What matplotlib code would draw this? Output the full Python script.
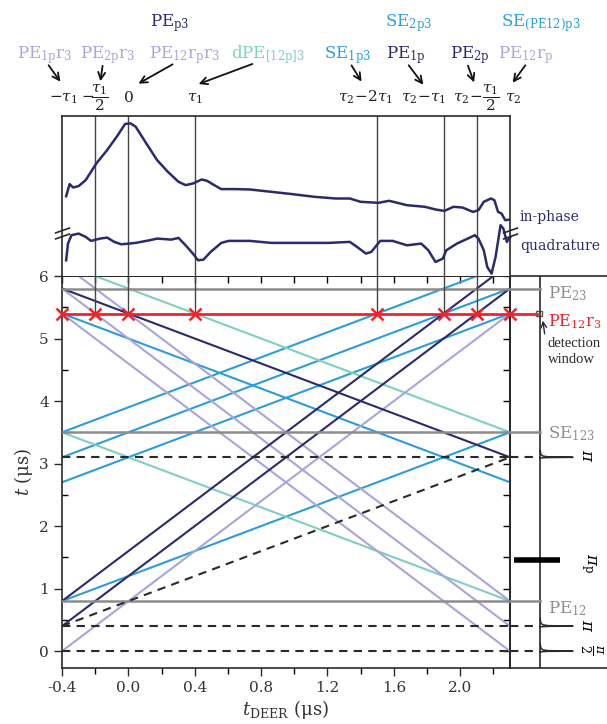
import numpy as np
import matplotlib
matplotlib.use("Agg")
import matplotlib.pyplot as plt
from matplotlib.transforms import blended_transform_factory
from matplotlib.patches import Rectangle, FancyArrowPatch

plt.rcParams['font.family'] = ['DejaVu Serif']
plt.rcParams['mathtext.fontset'] = 'dejavuserif'
plt.rcParams['axes.unicode_minus'] = False

# ---------------- data ----------------
tdeer_range = [-0.4, 2.3]           # t_DEER sweep (us)
pulse_times = [0.0, 0.4, 3.1]       # pi/2, pi, pi
pump_times = [0.4, 3.1]             # pump position at start / end of sweep
echo_time = 5.4
primary_echo_names = ["PE$_{12}$", "SE$_{123}$", "PE$_{23}$"]
primary_echo_times = [0.8, 3.5, 5.8]

# echo pathways: t at t_DEER=-0.4 and t at t_DEER=2.3
navy_paths = [(5.8, 3.1), (0.8, 6.2), (0.4, 5.8)]
lavender_paths = [(0.0, 5.4), (5.4, 0.0), (5.8, 0.4), (6.2, 0.8)]
teal_paths = [(6.2, 3.5), (3.5, 0.8)]
blue_paths = [(3.5, 6.2), (3.1, 5.8), (2.7, 5.4), (0.8, 3.5), (5.4, 2.7)]

crossing_x = [-0.4, -0.2, 0.0, 0.4, 1.5, 1.9, 2.1, 2.3]
tick_texts = [r'$-\tau_1$', r'$-\!\dfrac{\tau_1}{2}$', r'$0$', r'$\tau_1$',
              r'$\tau_2\!-\!2\tau_1$', r'$\tau_2\!-\!\tau_1$',
              r'$\tau_2\!-\!\dfrac{\tau_1}{2}$', r'$\tau_2$']

inphase_x = [-0.375, -0.354, -0.333, -0.300, -0.257, -0.193, -0.128, -0.063, -0.020, 0.012,
             0.044, 0.108, 0.173, 0.238, 0.302, 0.345, 0.389, 0.442, 0.474, 0.517,
             0.560, 0.646, 0.733, 0.861, 0.991, 1.120, 1.249, 1.335, 1.399, 1.507,
             1.572, 1.679, 1.787, 1.851, 1.905, 1.959, 2.013, 2.077, 2.110, 2.142,
             2.185, 2.206, 2.228, 2.249, 2.271, 2.300]
inphase_y = [79.8, 91.9, 88.5, 89.9, 95.9, 112.6, 125.9, 141, 152, 152.7,
             149.3, 132.6, 115.9, 104.2, 94.2, 90.9, 92.5, 96.5, 95.2, 90.9,
             86.9, 86.9, 86.5, 84.2, 81.8, 79.2, 77.5, 77.5, 74.2, 73.2,
             75.2, 70.8, 69.2, 66.5, 65.1, 69.2, 68.5, 64.1, 65.8, 74.2,
             77.5, 75.8, 64.1, 62.5, 55.8, 56.5]
quad_x = [-0.375, -0.364, -0.343, -0.300, -0.257, -0.225, -0.171, -0.128, -0.085, -0.042,
          0.044, 0.130, 0.173, 0.259, 0.302, 0.345, 0.389, 0.420, 0.453, 0.496,
          0.560, 0.604, 0.733, 0.861, 1.034, 1.206, 1.335, 1.378, 1.432, 1.464,
          1.518, 1.593, 1.679, 1.765, 1.808, 1.851, 1.895, 1.916, 1.980, 2.045,
          2.088, 2.110, 2.142, 2.163, 2.189, 2.213, 2.243, 2.260, 2.281, 2.303]
quad_y = [15.7, 32.4, 40.8, 42.4, 39.1, 35.1, 37.4, 38.4, 34.1, 31.7,
          33.1, 35.8, 37.4, 36.4, 38.1, 30.7, 22.4, 15.7, 16.4, 24.1,
          33.1, 35.1, 35.1, 33.1, 33.1, 33.1, 34.1, 29.1, 22.4, 24.1,
          35.1, 35.1, 30.7, 32.4, 25.7, 14.0, 17.4, 25.7, 32.4, 37.4,
          40.8, 37.4, 25.7, 9.0, 2.4, 19.0, 50.8, 47.4, 34.1, 39.1]

# ---------------- style ----------------
NAVY = '#2a2a6c'
LAV = '#a8a5da'
TEAL = '#7fcfc1'
BLUE = '#2c9ddb'
GREY = '#8c8c8c'
RED = '#f0232d'
DARK = '#2a2a2a'

W, H = 607, 724
fig = plt.figure(figsize=(W / 100, H / 100), dpi=100)
def fx(px): return px / W
def fy(py): return 1 - py / H

L, R = 62, 510
main_top, main_bot = 276, 668
top_top = 116

ax = fig.add_axes([fx(L), fy(main_bot), fx(R) - fx(L), fy(main_top) - fy(main_bot)])
axp = fig.add_axes([fx(R), fy(main_bot), 1 - fx(R), fy(main_top) - fy(main_bot)])
axt = fig.add_axes([fx(L), fy(main_top), fx(R) - fx(L), fy(top_top) - fy(main_top)])

# ---------------- main axes ----------------
ax.set_xlim(tdeer_range)
ax.set_ylim(-0.27, 6.0)
for s in ax.spines.values():
    s.set_linewidth(1.2)
    s.set_color(DARK)

lw = 1.5
for a, b in blue_paths:
    ax.plot(tdeer_range, [a, b], color=BLUE, lw=lw, zorder=2)
for a, b in teal_paths:
    ax.plot(tdeer_range, [a, b], color=TEAL, lw=lw, zorder=2)
for a, b in lavender_paths:
    ax.plot(tdeer_range, [a, b], color=LAV, lw=lw, zorder=2)
for a, b in navy_paths:
    ax.plot(tdeer_range, [a, b], color=NAVY, lw=lw, zorder=2)

for t in primary_echo_times:
    ax.axhline(t, color=GREY, lw=1.8, zorder=3)
dash = (0, (4, 3))
for t in pulse_times:
    ax.axhline(t, color=DARK, lw=1.5, ls=dash, zorder=3)
ax.plot(tdeer_range, pump_times, color=DARK, lw=1.5, ls=dash, zorder=3)

ax.axhline(echo_time, color=RED, lw=2.0, zorder=4)
ax.vlines(crossing_x[1:-1], echo_time, 6.0, color='#444444', lw=1.0, zorder=3)
ax.plot(crossing_x, [echo_time] * len(crossing_x), 'x', ms=9, mew=1.8,
        color=RED, clip_on=False, zorder=6)

ax.set_xticks(np.arange(-0.4, 2.01, 0.4))
ax.set_xticklabels([f'{v:.1f}' for v in np.arange(-0.4, 2.01, 0.4)])
ax.set_xticks(np.arange(-0.2, 2.21, 0.4), minor=True)
ax.set_yticks(range(0, 7))
ax.set_yticks(np.arange(0.5, 6, 1.0), minor=True)
ax.tick_params(axis='x', which='major', direction='out', length=6, width=1, labelsize=11, colors=DARK)
ax.tick_params(axis='x', which='minor', direction='out', length=4, width=1)
ax.tick_params(axis='y', which='major', direction='out', length=6, width=1, labelsize=11, colors=DARK)
ax.tick_params(axis='y', which='minor', direction='in', length=4, width=1)
ax.tick_params(labelcolor='#333333')

sx = ax.secondary_xaxis('top')
sx.set_xticks(np.arange(-0.4, 2.31, 0.2))
sx.tick_params(direction='in', length=5, width=1, labeltop=False)
sx.spines['top'].set_linewidth(1.2)
sy = ax.secondary_yaxis('right')
sy.set_yticks(np.arange(0, 6.01, 0.5))
sy.tick_params(direction='in', length=5, width=1, labelright=False)
sy.spines['right'].set_linewidth(1.2)

ax.set_xlabel(r'$t_{\mathrm{DEER}}$ (μs)', fontsize=13, color='#333333', labelpad=2)
ax.set_ylabel(r'$t$ (μs)', fontsize=13, color='#333333', labelpad=3)

# ---------------- pulse panel ----------------
AX0 = 30
axp.set_xlim(0, 97)
axp.set_ylim(-0.27, 6.0)
axp.set_xticks([])
axp.set_yticks([])
axp.patch.set_alpha(0)
for side in ['left', 'right']:
    axp.spines[side].set_visible(False)
for side in ['top', 'bottom']:
    axp.spines[side].set_linewidth(1.2)
    axp.spines[side].set_color(DARK)

axp.axvline(AX0, color=DARK, lw=1.2)
for t in primary_echo_times:
    axp.plot([0, AX0], [t, t], color=GREY, lw=1.8)
for t in pulse_times:
    axp.plot([0, AX0], [t, t], color=DARK, lw=1.5, ls=dash)
axp.plot([0, AX0 - 3], [echo_time, echo_time], color=RED, lw=2.0)

spike_dx = [0, 1.0, 3.0, 8.0, 33.0, 8.0, 1.0, 0]
spike_dy = [0.12, 0.045, 0.02, 0.008, 0.0, -0.004, -0.01, -0.02]
for t in pulse_times:
    axp.plot([AX0 + d for d in spike_dx], [t + d for d in spike_dy], color=DARK, lw=1.1)
axp.plot([4, 50], [1.45, 1.45], color='black', lw=4, solid_capstyle='butt')

axp.add_patch(Rectangle((AX0 - 4, echo_time - 0.045), 6, 0.09, fill=False,
                        edgecolor='#555555', lw=1.0))
axp.annotate('', xy=(AX0 + 2.5, echo_time - 0.07), xytext=(AX0 + 5, 5.03),
             arrowprops=dict(arrowstyle='->', lw=1.0, color=DARK))

axp.text(38, 5.65, primary_echo_names[2], color=GREY, fontsize=12)
axp.text(38, 5.2, r'PE$_{12}$r$_3$', color=RED, fontsize=11.5)
axp.text(38, 4.86, 'detection', color=DARK, fontsize=10.5, family='Liberation Serif')
axp.text(38, 4.61, 'window', color=DARK, fontsize=10.5, family='Liberation Serif')
axp.text(38, 3.41, primary_echo_names[1], color=GREY, fontsize=12)
axp.text(38, 0.61, primary_echo_names[0], color=GREY, fontsize=12)

axp.text(77, 3.13, r'$\pi$', rotation=-90, fontsize=12, ha='center', va='center')
axp.text(78, 1.41, r'$\pi_\mathrm{p}$', rotation=-90, fontsize=12, ha='center', va='center')
axp.text(77, 0.40, r'$\pi$', rotation=-90, fontsize=12, ha='center', va='center')
axp.text(81, 0.03, r'$\frac{\pi}{2}$', rotation=-90, fontsize=13, ha='center', va='center')

# ---------------- top panel (traces) ----------------
axt.set_xlim(tdeer_range)
axt.set_ylim(0, 160)
axt.set_xticks([])
axt.set_yticks([])
axt.spines['bottom'].set_visible(False)
for side in ['top', 'left', 'right']:
    axt.spines[side].set_linewidth(1.2)
    axt.spines[side].set_color(DARK)
for xv in crossing_x[1:-1]:
    axt.axvline(xv, color='#444444', lw=1.0)
axt.plot(inphase_x, inphase_y, color=NAVY, lw=1.8)
axt.plot(quad_x, quad_y, color=NAVY, lw=1.8, clip_on=False)

brk = [(-1, -0.35), (1, 0.35)]
for xv in tdeer_range:
    axt.plot([xv, xv], [40.5, 46.5], ls='none', marker=brk, ms=11, mew=1.2,
             color=DARK, clip_on=False)
axt.text(2.36, 59, 'in-phase', color=NAVY, fontsize=10, va='center', clip_on=False)
axt.text(2.36, 30, 'quadrature', color=NAVY, fontsize=10, va='center', clip_on=False)

# ---------------- labels above ----------------
blend = blended_transform_factory(axt.transData, fig.transFigure)
tick_pos = [-0.394, -0.200, 0.0, 0.4, 1.43, 1.78, 2.10, 2.32]
for xp, txt in zip(tick_pos, tick_texts):
    axt.text(xp, fy(102), txt, transform=blend, ha='center', va='baseline',
             fontsize=11, color='#222222')

echo_labels = [
    (r'PE$_\mathrm{1p}$r$_3$', LAV, 45, 58, (47, 63), (62, 84)),
    (r'PE$_\mathrm{2p}$r$_3$', LAV, 108, 58, (103, 63), (100, 84)),
    (r'PE$_{12}$r$_\mathrm{p}$r$_3$', LAV, 185, 58, (175, 63), (136, 85)),
    (r'dPE$_{[\mathrm{12p}]3}$', TEAL, 268, 58, (255, 63), (196, 85)),
    (r'SE$_\mathrm{1p3}$', BLUE, 348, 58, (350, 63), (363, 84)),
    (r'PE$_\mathrm{1p}$', NAVY, 406, 58, (407, 63), (425, 87)),
    (r'PE$_\mathrm{2p}$', NAVY, 470, 58, (467, 63), (475, 85)),
    (r'PE$_{12}$r$_\mathrm{p}$', LAV, 526, 58, (527, 63), (511, 85)),
]
for txt, col, px, py, a0, a1 in echo_labels:
    fig.text(fx(px), fy(py), txt, color=col, fontsize=12, ha='center', va='baseline')
    fig.add_artist(FancyArrowPatch(
        (fx(a0[0]), fy(a0[1])), (fx(a1[0]), fy(a1[1])), transform=fig.transFigure,
        arrowstyle='->,head_length=5,head_width=2.5', lw=1.3, color='#111111'))

top_row = [
    (r'PE$_\mathrm{p3}$', NAVY, 170, 26),
    (r'SE$_\mathrm{2p3}$', BLUE, 409, 26),
    (r'SE$_{(\mathrm{PE12})\mathrm{p3}}$', BLUE, 541, 26),
]
for txt, col, px, py in top_row:
    fig.text(fx(px), fy(py), txt, color=col, fontsize=12, ha='center', va='baseline')

fig.savefig('out.png', dpi=100)
